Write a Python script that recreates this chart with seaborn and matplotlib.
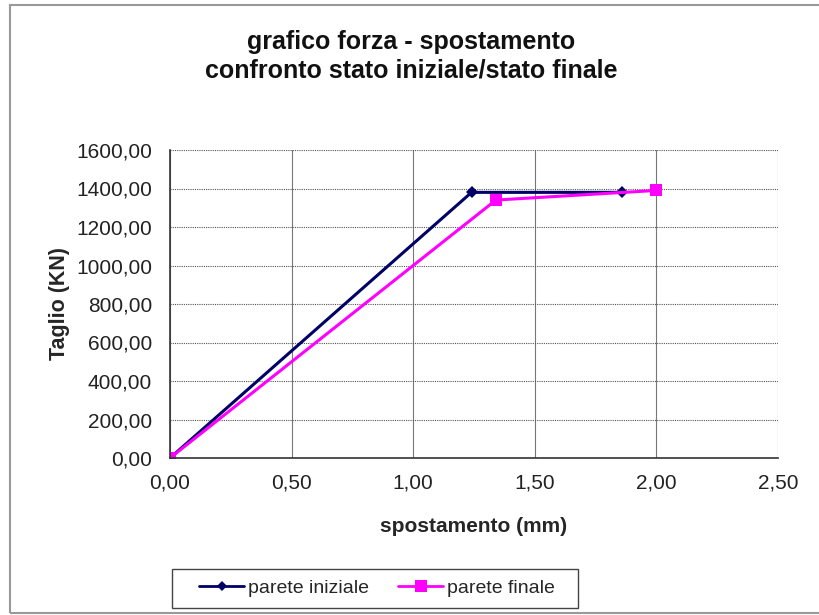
import matplotlib
matplotlib.use("Agg")
import matplotlib.pyplot as plt
import matplotlib.ticker as mticker
from matplotlib.lines import Line2D
import seaborn as sns
import pandas as pd

# Force-displacement data: initial and final wall state
spost_iniziale = [0.00, 1.24, 1.86]
taglio_iniziale = [0.0, 1380.0, 1380.0]
spost_finale = [0.00, 1.34, 2.00]
taglio_finale = [0.0, 1340.0, 1390.0]
serie = ["parete iniziale", "parete finale"]

df = pd.concat([
    pd.DataFrame({"x": spost_iniziale, "y": taglio_iniziale, "serie": serie[0]}),
    pd.DataFrame({"x": spost_finale, "y": taglio_finale, "serie": serie[1]}),
], ignore_index=True)

sns.set_style("white")
plt.rcParams["font.family"] = ["Liberation Sans", "DejaVu Sans"]

W, H = 819, 615
fig = plt.figure(figsize=(W / 100, H / 100), dpi=100)
ax = fig.add_axes([170 / W, 1 - 458 / H, 608 / W, 308 / H])

colors = {"parete iniziale": "#000066", "parete finale": "#FF00FF"}
markers = {"parete iniziale": "D", "parete finale": "s"}
sns.lineplot(data=df, x="x", y="y", hue="serie", style="serie",
             palette=colors, markers=markers, dashes=False,
             markersize=9, linewidth=2.2, markeredgewidth=0,
             sort=False, estimator=None, ax=ax, legend=False)
# smaller diamond for the first series
for line in ax.get_lines():
    if line.get_marker() == "D":
        line.set_markersize(6.5)

ax.set_xlim(0, 2.5)
ax.set_ylim(0, 1600)
ax.xaxis.set_major_locator(mticker.MultipleLocator(0.5))
ax.yaxis.set_major_locator(mticker.MultipleLocator(200))
fmt = mticker.FuncFormatter(lambda v, p: f"{v:.2f}".replace(".", ","))
ax.xaxis.set_major_formatter(fmt)
ax.yaxis.set_major_formatter(fmt)

ax.grid(axis="y", color="#555555", linestyle=(0, (1, 1)), linewidth=0.8)
ax.grid(axis="x", color="#777777", linestyle="-", linewidth=0.8)
for side in ["left", "bottom"]:
    ax.spines[side].set_color("#333333")
    ax.spines[side].set_linewidth(1.2)
for side in ["top", "right"]:
    ax.spines[side].set_visible(False)

ax.tick_params(axis="both", which="major", labelsize=15, colors="#222222",
               length=5, direction="out", width=1)
ax.tick_params(axis="y", pad=8)
ax.tick_params(axis="x", pad=6)

ax.set_xlabel("spostamento (mm)", fontsize=15, fontweight="bold", labelpad=18)
ax.set_ylabel("Taglio (KN)", fontsize=15.5, fontweight="bold", labelpad=4)

fig.text(411 / W, 1 - 42 / H, "grafico forza - spostamento", ha="center", va="center",
         fontsize=18, fontweight="bold", color="#111111")
fig.text(411 / W, 1 - 71 / H, "confronto stato iniziale/stato finale", ha="center", va="center",
         fontsize=18, fontweight="bold", color="#111111")

# Legend below the plot, with its own rectangular frame
handles = [
    Line2D([], [], color=colors[serie[0]], marker="D", markersize=5, linewidth=2, markeredgewidth=0),
    Line2D([], [], color=colors[serie[1]], marker="s", markersize=8, linewidth=2, markeredgewidth=0),
]
fig.legend(handles, serie, loc="center", bbox_to_anchor=(377 / W, 1 - 588 / H),
           ncol=2, fontsize=14, frameon=False, handlelength=2.3,
           handletextpad=0.2, columnspacing=1.5, borderpad=0.45, borderaxespad=0)
fig.patches.append(plt.Rectangle((172 / W, 1 - 608 / H), 406 / W, 39 / H, transform=fig.transFigure,
                                 fill=False, edgecolor="#444444", linewidth=1))

# outer chart border
fig.patches.append(plt.Rectangle((10 / W, 2 / H), 1.1, 1 - 7 / H, transform=fig.transFigure,
                                 fill=False, edgecolor="#999999", linewidth=1.5))

fig.savefig("out.png", dpi=100)
